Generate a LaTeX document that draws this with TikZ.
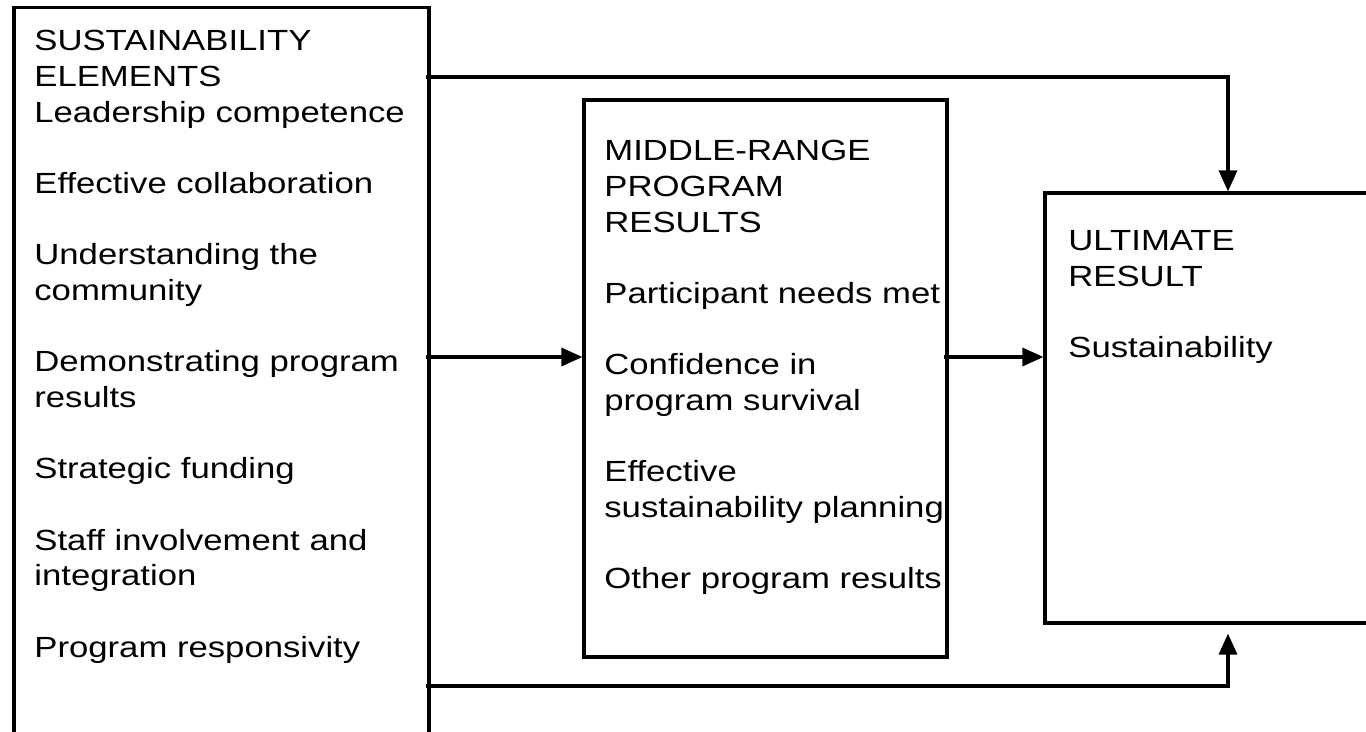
\documentclass[tikz,border=0pt]{standalone}
\usepackage{fontspec}
\setmainfont{Liberation Sans}[FakeStretch=1.19]
\usetikzlibrary{arrows.meta}
\begin{document}
\begin{tikzpicture}[x=0.02cm,y=-0.02cm,
    box/.style={draw,line width=1.8pt,inner sep=0pt},
    txt/.style={anchor=north west,align=left,inner sep=0pt,
      font=\fontsize{16.6}{20.3}\selectfont},
    conn/.style={line width=1.8pt,-{Triangle[length=0.42cm,width=0.36cm]}}]
    \clip (0,0) rectangle (1366,731);

    \node[box,minimum width=8.3cm,minimum height=15.1cm] (elements) at (221.5,385) {};
    \node[box,minimum width=7.26cm,minimum height=11.14cm] (middle) at (765.5,378.5) {};
    \node[box,minimum width=7.32cm,minimum height=8.6cm] (ultimate) at (1228,408) {};

    \node[txt] (elementstext) at (34,30) {SUSTAINABILITY\\ELEMENTS\\Leadership competence\\[20.3pt]
      Effective collaboration\\[20.3pt]
      Understanding the\\community\\[20.3pt]
      Demonstrating program\\results\\[20.3pt]
      Strategic funding\\[20.3pt]
      Staff involvement and\\integration\\[20.3pt]
      Program responsivity};
    \node[txt] (middletext) at (604,140) {MIDDLE-RANGE\\PROGRAM\\RESULTS\\[20.3pt]
      Participant needs met\\[20.3pt]
      Confidence in\\program survival\\[20.3pt]
      Effective\\sustainability planning\\[20.3pt]
      Other program results};
    \node[txt] (ultimatetext) at (1068,230) {ULTIMATE\\RESULT\\[20.3pt]
      Sustainability};

    \coordinate (toprow) at (0,77);
    \coordinate (midrow) at (0,357);
    \coordinate (lowrow) at (0,686);

    \draw[conn] ([xshift=-0.1cm]elements.east |- toprow) -| (ultimate.north);
    \draw[conn] ([xshift=-0.1cm]elements.east |- midrow) -- (middle.west |- midrow);
    \draw[conn] ([xshift=-0.1cm]middle.east |- midrow) -- (ultimate.west |- midrow);
    \draw[conn,shorten >=0.18cm] ([xshift=-0.1cm]elements.east |- lowrow) -| (ultimate.south);
\end{tikzpicture}
\end{document}
